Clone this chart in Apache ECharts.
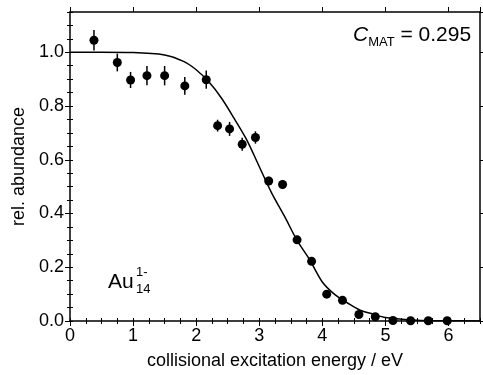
<!DOCTYPE html>
<html>
<head>
<meta charset="utf-8">
<script src="https://cdn.jsdelivr.net/npm/echarts@6/dist/echarts.min.js"></script>
<style>
html,body{margin:0;padding:0;background:#fff;}
#chart{width:483px;height:375px;}
</style>
</head>
<body>
<div id="chart"></div>
<script>
// measured points
var energy = [0.38, 0.75, 0.96, 1.22, 1.50, 1.82, 2.16, 2.34, 2.53, 2.73, 2.94, 3.15, 3.37, 3.60, 3.83, 4.07, 4.32, 4.58, 4.84, 5.12, 5.40, 5.68, 5.98];
var abundance = [1.045, 0.962, 0.897, 0.913, 0.913, 0.875, 0.898, 0.727, 0.715, 0.658, 0.683, 0.521, 0.508, 0.302, 0.222, 0.100, 0.077, 0.024, 0.016, 0.002, 0.001, 0.001, 0.001];
var errors = [0.038, 0.033, 0.030, 0.036, 0.036, 0.033, 0.034, 0.022, 0.026, 0.024, 0.023, 0.016, 0.017, 0.012, 0.010, 0.008, 0.007, 0.005, 0.004, 0.003, 0.002, 0.002, 0.002];
// fit curve
var fitX = [0, 0.5, 1.0, 1.5, 1.8, 2.0, 2.2, 2.4, 2.6, 2.8, 3.0, 3.2, 3.4, 3.6, 3.8, 4.0, 4.2, 4.4, 4.6, 4.8, 5.0, 5.5, 6.0, 6.5];
var fitY = [1.0, 1.0, 0.999, 0.99, 0.966, 0.935, 0.89, 0.83, 0.755, 0.675, 0.575, 0.475, 0.39, 0.30, 0.228, 0.145, 0.098, 0.067, 0.040, 0.026, 0.013, 0.003, 0.001, 0.0];
var xTicks = [0, 1, 2, 3, 4, 5, 6];
var yTicks = [0.0, 0.2, 0.4, 0.6, 0.8, 1.0];
var xLabel = 'collisional excitation energy / eV';
var yLabel = 'rel. abundance';

var FONT = '"Liberation Sans", Arial, sans-serif';
var chart = echarts.init(document.getElementById('chart'), null, {renderer: 'canvas'});

var pts = energy.map(function (x, i) { return [x, abundance[i]]; });
var errData = energy.map(function (x, i) { return [x, abundance[i] - errors[i], abundance[i] + errors[i]]; });
var fitData = fitX.map(function (x, i) { return [x, fitY[i]]; });

var lineStyle = {color: '#000', width: 1.5};
function baseX(extra) {
  return Object.assign({
    type: 'value', min: 0, max: 6.5, position: 'bottom',
    axisLine: {show: false, lineStyle: lineStyle},
    axisTick: {show: true, inside: false, length: 5, lineStyle: {color: '#000', width: 1}},
    axisLabel: {show: false}, splitLine: {show: false}
  }, extra);
}
function baseY(extra) {
  return Object.assign({
    type: 'value', min: 0, max: 1.15, position: 'left',
    axisLine: {show: false, lineStyle: lineStyle},
    axisTick: {show: true, inside: false, length: 5, lineStyle: {color: '#000', width: 1}},
    axisLabel: {show: false}, splitLine: {show: false}
  }, extra);
}

var option = {
  animation: false,
  backgroundColor: '#fff',
  grid: {left: 70, right: 3, top: 12, bottom: 53, containLabel: false},
  xAxis: [
    baseX({
      interval: 1,
      axisLine: {show: true, onZero: false, lineStyle: lineStyle},
      axisLabel: {
        show: true, color: '#000', fontSize: 18, fontFamily: FONT, margin: 6,
        showMaxLabel: false,
        formatter: function (v) { return xTicks.indexOf(v) >= 0 ? String(v) : ''; }
      },
      name: xLabel, nameLocation: 'middle', nameGap: 31,
      nameTextStyle: {color: '#000', fontSize: 18, fontFamily: FONT}
    }),
    baseX({interval: 0.25, axisTick: {show: true, length: 3, lineStyle: {color: '#000', width: 1}}}),
    baseX({position: 'top', interval: 1, axisLine: {show: true, onZero: false, lineStyle: lineStyle}}),
    baseX({position: 'top', interval: 0.25, axisTick: {show: true, length: 3, lineStyle: {color: '#000', width: 1}}})
  ],
  yAxis: [
    baseY({
      interval: 0.2,
      axisLine: {show: true, onZero: false, lineStyle: lineStyle},
      axisLabel: {
        show: true, color: '#000', fontSize: 18, fontFamily: FONT, margin: 6,
        showMaxLabel: false,
        formatter: function (v) { return v <= 1.0001 ? v.toFixed(1) : ''; }
      },
      name: yLabel, nameLocation: 'middle', nameGap: 42,
      nameTextStyle: {color: '#000', fontSize: 18, fontFamily: FONT}
    }),
    baseY({interval: 0.05, axisTick: {show: true, length: 3, lineStyle: {color: '#000', width: 1}}}),
    baseY({position: 'right', interval: 0.2, axisLine: {show: true, onZero: false, lineStyle: lineStyle}}),
    baseY({position: 'right', interval: 0.05, axisTick: {show: true, length: 3, lineStyle: {color: '#000', width: 1}}})
  ],
  graphic: [
    {
      type: 'text', left: 353, top: 25,
      style: {
        text: '{c|C}{s|MAT}{n| = 0.295}',
        rich: {
          c: {fontSize: 21, fontStyle: 'italic', fontFamily: FONT, fill: '#000', verticalAlign: 'bottom'},
          s: {fontSize: 13, fontFamily: FONT, fill: '#000', verticalAlign: 'bottom', padding: [0, 0, -3, 0]},
          n: {fontSize: 21, fontFamily: FONT, fill: '#000', verticalAlign: 'bottom'}
        }
      }
    },
    {
      type: 'text', left: 108, top: 272,
      style: {text: 'Au', fontSize: 21, fontFamily: FONT, fill: '#000'}
    },
    {
      type: 'text', left: 136, top: 266,
      style: {text: '1-', fontSize: 13, fontFamily: FONT, fill: '#000'}
    },
    {
      type: 'text', left: 136, top: 283,
      style: {text: '14', fontSize: 13, fontFamily: FONT, fill: '#000'}
    }
  ],
  series: [
    {
      type: 'line', data: fitData, smooth: 0.3, symbol: 'none',
      xAxisIndex: 0, yAxisIndex: 0,
      lineStyle: {color: '#000', width: 1.5}, z: 2
    },
    {
      type: 'custom', data: errData, xAxisIndex: 0, yAxisIndex: 0, z: 3,
      renderItem: function (params, api) {
        var a = api.coord([api.value(0), api.value(1)]);
        var b = api.coord([api.value(0), api.value(2)]);
        return {type: 'line', shape: {x1: a[0], y1: a[1], x2: b[0], y2: b[1]},
                style: {stroke: '#000', lineWidth: 1.5}};
      }
    },
    {
      type: 'scatter', data: pts, symbol: 'circle', symbolSize: 9,
      xAxisIndex: 0, yAxisIndex: 0,
      itemStyle: {color: '#000', opacity: 1}, z: 4
    }
  ]
};
chart.setOption(option);
</script>
</body>
</html>
